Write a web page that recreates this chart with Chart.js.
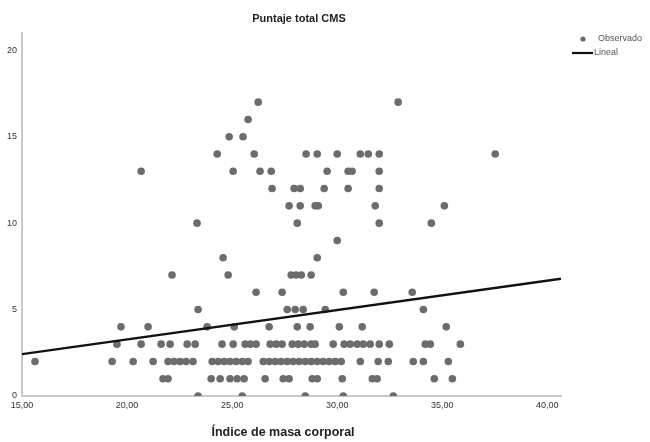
<!DOCTYPE html>
<html lang="es">
<head>
<meta charset="utf-8">
<title>Puntaje total CMS</title>
<script src="https://cdn.jsdelivr.net/npm/chart.js@4.4.1/dist/chart.umd.min.js"></script>
<style>
  html, body { margin: 0; padding: 0; background: #fff; }
  #grafico-holder { position: relative; width: 650px; height: 442px; }
</style>
</head>
<body>
<div id="grafico-holder"><canvas id="grafico-cms"></canvas></div>
<script>
// Índice de masa corporal (x) y puntaje CMS (y), una fila por nivel de puntaje
const imc = [
  23.38, 25.48, 28.48, 30.29, 32.67,
  21.71, 21.95, 24.0, 24.43, 24.9, 25.24, 25.57, 26.57, 27.43, 27.71, 28.81, 29.05, 30.24, 31.67, 31.9, 34.62, 35.48,
  15.62, 19.29, 20.29, 21.24, 21.95, 22.24, 22.52, 22.81, 23.14, 24.05, 24.33, 24.62, 24.9, 25.19, 25.48, 25.76, 26.48, 26.76,
  27.05, 27.33, 27.62, 27.9, 28.19, 28.48, 28.76, 29.05, 29.33, 29.62, 29.9, 30.19, 31.1, 31.95, 32.43, 33.62, 34.1, 35.29,
  19.52, 20.67, 21.62, 22.05, 22.86, 23.24, 24.52, 25.05, 25.62, 25.86, 26.14, 26.81, 27.1, 27.38, 27.86,
  28.14, 28.43, 28.76, 28.95, 29.81, 30.33, 30.62, 30.95, 31.24, 31.57, 32.0, 32.48, 34.19, 34.43, 35.86,
  19.71, 21.0, 23.81, 25.1, 26.76, 28.1, 28.71, 30.1, 31.19, 35.19,
  23.38, 27.62, 28.0, 28.38, 29.43, 34.1,
  26.14, 27.38, 30.29, 31.76, 33.57,
  22.14, 24.81, 27.81, 28.05, 28.29, 28.76,
  24.57, 29.05,
  30.0,
  23.33, 28.1, 32.0, 34.48,
  27.71, 28.24, 28.95, 29.1, 31.81, 35.1,
  26.9, 27.95, 28.24, 29.38, 30.52, 32.0,
  20.67, 25.05, 26.33, 26.86, 29.52, 30.52, 30.71, 32.0,
  24.29, 26.05, 28.52, 29.05, 30.0, 31.1, 31.48, 32.0, 37.52,
  24.86, 25.52,
  25.76,
  26.24, 32.9,
];
const puntaje = [
  0, 0, 0, 0, 0,
  1, 1, 1, 1, 1, 1, 1, 1, 1, 1, 1, 1, 1, 1, 1, 1, 1,
  2, 2, 2, 2, 2, 2, 2, 2, 2, 2, 2, 2, 2, 2, 2, 2, 2, 2,
  2, 2, 2, 2, 2, 2, 2, 2, 2, 2, 2, 2, 2, 2, 2, 2, 2, 2,
  3, 3, 3, 3, 3, 3, 3, 3, 3, 3, 3, 3, 3, 3, 3,
  3, 3, 3, 3, 3, 3, 3, 3, 3, 3, 3, 3, 3, 3, 3,
  4, 4, 4, 4, 4, 4, 4, 4, 4, 4,
  5, 5, 5, 5, 5, 5,
  6, 6, 6, 6, 6,
  7, 7, 7, 7, 7, 7,
  8, 8,
  9,
  10, 10, 10, 10,
  11, 11, 11, 11, 11, 11,
  12, 12, 12, 12, 12, 12,
  13, 13, 13, 13, 13, 13, 13, 13,
  14, 14, 14, 14, 14, 14, 14, 14, 14,
  15, 15,
  16,
  17, 17,
];

// Recta de ajuste lineal (extremos)
const lineaX = [15, 40.65];
const lineaY = [2.42, 6.78];

const xTicks = [15, 20, 25, 30, 35, 40];
const yTicks = [0, 5, 10, 15, 20];

const tituloTexto = "Puntaje total CMS";
const ejeXTexto = "Índice de masa corporal";
const leyendaTextos = ["Observado", "Lineal"];

const fuente = "'Liberation Sans', Arial, sans-serif";
const corPunto = "#6c6c6c";
const corLinha = "#111";

// Título, título del eje X y leyenda dibujados a mano
const textosPlugin = {
  id: "textosSpss",
  afterDraw(chart) {
    const { ctx } = chart;
    ctx.save();
    ctx.textBaseline = "middle";

    ctx.font = "bold 11px " + fuente;
    ctx.fillStyle = "#222";
    ctx.textAlign = "center";
    ctx.fillText(tituloTexto, 299, 19);

    ctx.font = "bold 12.5px " + fuente;
    ctx.fillText(ejeXTexto, 283, 433);

    // leyenda
    ctx.textAlign = "left";
    ctx.font = "9px " + fuente;
    ctx.fillStyle = corPunto;
    ctx.beginPath();
    ctx.arc(583, 39, 2.6, 0, Math.PI * 2);
    ctx.fill();
    ctx.fillStyle = "#555";
    ctx.fillText(leyendaTextos[0], 598, 39);

    ctx.strokeStyle = corLinha;
    ctx.lineWidth = 2.2;
    ctx.beginPath();
    ctx.moveTo(572, 53);
    ctx.lineTo(593, 53);
    ctx.stroke();
    ctx.fillText(leyendaTextos[1], 594, 53);
    ctx.restore();
  },
};

const puntos = imc.map((x, i) => ({ x, y: puntaje[i] }));
const recta = lineaX.map((x, i) => ({ x, y: lineaY[i] }));

new Chart(document.getElementById("grafico-cms").getContext("2d"), {
  type: "scatter",
  plugins: [textosPlugin],
  data: {
    datasets: [
      {
        label: leyendaTextos[0],
        data: puntos,
        backgroundColor: corPunto,
        borderColor: corPunto,
        pointRadius: 3.8,
        pointBorderWidth: 0,
        order: 1,
      },
      {
        type: "line",
        label: leyendaTextos[1],
        data: recta,
        borderColor: corLinha,
        borderWidth: 2.4,
        pointRadius: 0,
        fill: false,
        order: -1,
      },
    ],
  },
  options: {
    responsive: true,
    maintainAspectRatio: false,
    animation: false,
    layout: { padding: { left: 0, right: 89, top: 33, bottom: 0 } },
    plugins: {
      legend: { display: false },
      title: { display: false },
      tooltip: { enabled: false },
    },
    scales: {
      x: {
        type: "linear",
        min: 15,
        max: 40.65,
        grid: { display: false, drawTicks: false },
        border: { display: true, color: "#c8c8c8", width: 2 },
        afterBuildTicks: (scale) => {
          scale.ticks = xTicks.map((v) => ({ value: v }));
        },
        afterFit: (scale) => {
          scale.height = 46;
        },
        ticks: {
          padding: 4,
          color: "#333",
          font: { family: fuente, size: 9 },
          maxRotation: 0,
          autoSkip: false,
          callback: (v) => Number(v).toFixed(2).replace(".", ","),
        },
      },
      y: {
        type: "linear",
        min: 0,
        max: 21,
        grid: { display: false, drawTicks: false },
        border: { display: true, color: "#c8c8c8", width: 2 },
        afterBuildTicks: (scale) => {
          scale.ticks = yTicks.map((v) => ({ value: v }));
        },
        afterFit: (scale) => {
          scale.width = 22;
        },
        ticks: {
          padding: 5,
          color: "#333",
          font: { family: fuente, size: 9 },
          autoSkip: false,
          callback: (v) => String(v),
        },
      },
    },
  },
});
</script>
</body>
</html>
